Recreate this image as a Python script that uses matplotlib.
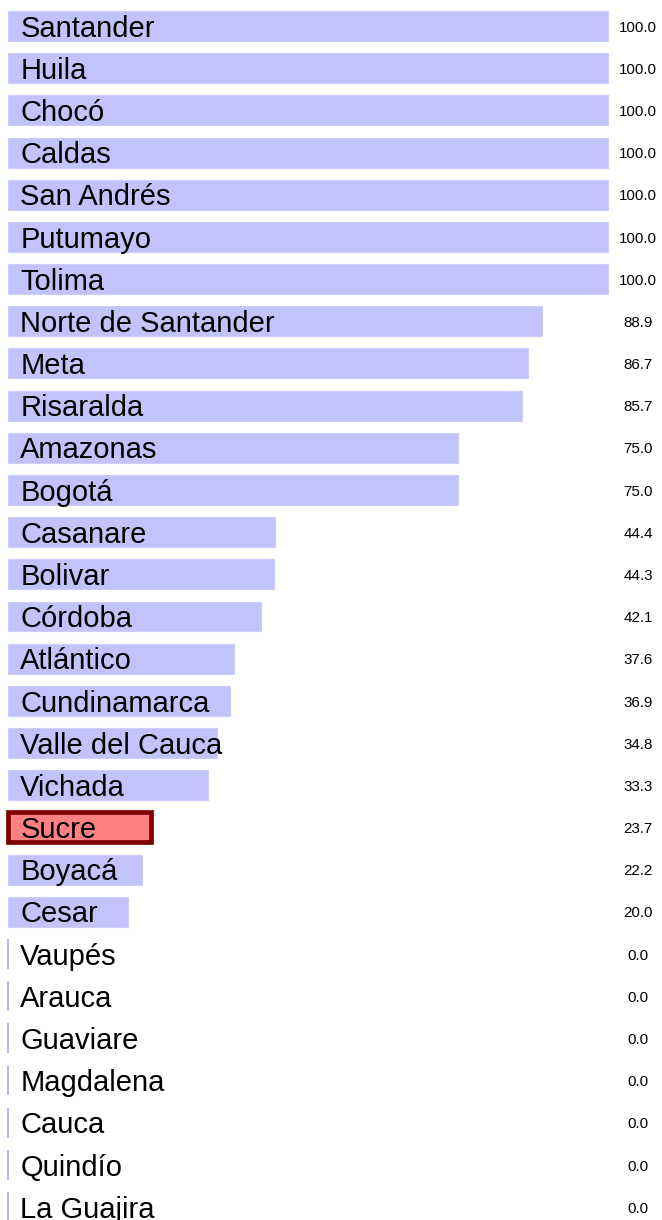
import matplotlib
matplotlib.use("Agg")
import matplotlib.pyplot as plt

categories = ["Santander", "Huila", "Chocó", "Caldas", "San Andrés", "Putumayo", "Tolima",
              "Norte de Santander", "Meta", "Risaralda", "Amazonas", "Bogotá", "Casanare",
              "Bolivar", "Córdoba", "Atlántico", "Cundinamarca", "Valle del Cauca", "Vichada",
              "Sucre", "Boyacá", "Cesar", "Vaupés", "Arauca", "Guaviare", "Magdalena",
              "Cauca", "Quindío", "La Guajira"]
values = [100.0, 100.0, 100.0, 100.0, 100.0, 100.0, 100.0, 88.9, 86.7, 85.7, 75.0, 75.0,
          44.4, 44.3, 42.1, 37.6, 36.9, 34.8, 33.3, 23.7, 22.2, 20.0, 0.0, 0.0, 0.0, 0.0,
          0.0, 0.0, 0.0]
highlight = "Sucre"

W, H = 662, 1220
fig = plt.figure(figsize=(W / 100, H / 100), dpi=100)
ax = fig.add_axes([0, 0, 1, 1])
ax.set_axis_off()

px_per_unit = 600 / 100.0
x0 = 8.3
ax.set_xlim(-x0 / px_per_unit, (W - x0) / px_per_unit)
row = 42.18
y0 = 26
ax.set_ylim((H - y0) / row, -y0 / row)

for i, (c, v) in enumerate(zip(categories, values)):
    if c == highlight:
        ax.barh(i, v, height=0.71, color="#FF8080", edgecolor="#800000", linewidth=3.4)
    elif v == 0:
        ax.barh(i, v, height=0.71, color="#C3C3FC", edgecolor="#B4B4F6", linewidth=1.4)
    else:
        ax.barh(i, v, height=0.71, color="#C3C3FC", edgecolor="#CDCDFA", linewidth=0.8)
    ax.text(12 / px_per_unit, i + 0.253, c, ha="left", va="baseline", fontsize=21,
            family="Liberation Sans", color="black")
    ax.text((638 - x0) / px_per_unit, i + 0.135, f"{v:.1f}", ha="center", va="baseline",
            fontsize=10.9, family="Liberation Sans", color="black")

fig.savefig("out.png", dpi=100)
